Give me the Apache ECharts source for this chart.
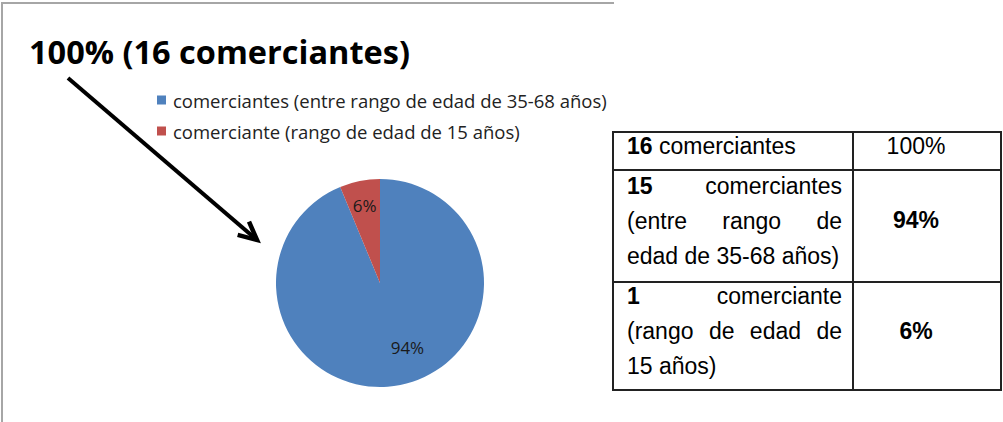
<!DOCTYPE html>
<html><head><meta charset="utf-8">
<script src="https://cdn.jsdelivr.net/npm/echarts@6/dist/echarts.min.js"></script>
<style>html,body{margin:0;padding:0;background:#fff}#c{width:1003px;height:422px}</style>
</head><body><div id="c"></div>
<script>
// ---- data ----
const titleText = '100% (16 comerciantes)';
const categories = ['comerciantes (entre rango de edad de 35-68 años)', 'comerciante (rango de edad de 15 años)'];
const counts = [15, 1];
const colors = ['#4F81BD', '#C0504D'];
const tableTotalLabel = 'comerciantes';
const tableRow1Lines = [['15', 'comerciantes'], ['(entre', 'rango', 'de'], ['edad de 35-68 años)']];
const tableRow2Lines = [['1', 'comerciante'], ['(rango', 'de', 'edad', 'de'], ['15 años)']];

// ---- derived ----
const total = counts.reduce((a, b) => a + b, 0);
const pct = counts.map(v => Math.round(v / total * 100) + '%');

// ---- helpers for the side table ----
const TF = 23, FAM = '"Liberation Sans", Arial, sans-serif';
const mctx = document.createElement('canvas').getContext('2d');
function tw(s, bold) { mctx.font = (bold ? 'bold ' : '') + TF + 'px ' + FAM; return mctx.measureText(s).width; }
function txt(x, y, s, bold, align) {
  return { type: 'text', x: x, y: y, silent: true, style: { text: s, font: (bold ? 'bold ' : '') + TF + 'px ' + FAM, fill: '#000', align: align || 'left', verticalAlign: 'middle' } };
}
const TX0 = 627, TX1 = 842;
function line(words, y, firstBold, justify) {
  const els = [];
  if (!justify || words.length === 1) {
    els.push(txt(TX0, y, words.join(' '), false));
    return els;
  }
  const ws = words.map((w, i) => tw(w, firstBold && i === 0));
  const sum = ws.reduce((a, b) => a + b, 0);
  const gap = (TX1 - TX0 - sum) / (words.length - 1);
  let x = TX0;
  words.forEach((w, i) => { els.push(txt(x, y, w, firstBold && i === 0)); x += ws[i] + gap; });
  return els;
}

const L = 613, R = 1001, T = 132, B = 390, CX = 853, R1 = 170, R2 = 282;
const tableEls = [
  { type: 'rect', shape: { x: L, y: T, width: R - L, height: B - T }, style: { fill: 'none', stroke: '#222', lineWidth: 2 }, silent: true },
  { type: 'line', shape: { x1: CX, y1: T, x2: CX, y2: B }, style: { stroke: '#222', lineWidth: 2 }, silent: true },
  { type: 'line', shape: { x1: L, y1: R1, x2: R, y2: R1 }, style: { stroke: '#222', lineWidth: 2 }, silent: true },
  { type: 'line', shape: { x1: L, y1: R2, x2: R, y2: R2 }, style: { stroke: '#222', lineWidth: 2 }, silent: true },
  { type: 'text', x: TX0, y: 146, silent: true, style: { text: '{b|' + total + '} ' + tableTotalLabel, font: TF + 'px ' + FAM, fill: '#000', verticalAlign: 'middle', rich: { b: { fontWeight: 'bold', fontSize: TF, fontFamily: FAM } } } },
  txt(916, 146, '100%', false, 'center'),
  txt(916, 220, pct[0], true, 'center'),
  txt(916, 331, pct[1], true, 'center')
];
[186, 221, 256].forEach((y, i) => tableEls.push(...line(tableRow1Lines[i], y, i === 0, i < 2)));
[296, 331, 366].forEach((y, i) => tableEls.push(...line(tableRow2Lines[i], y, i === 0, i < 2)));

// arrow
const ax0 = 68, ay0 = 78, ax1 = 257, ay1 = 240;
const dl = Math.hypot(ax1 - ax0, ay1 - ay0), ux = (ax1 - ax0) / dl, uy = (ay1 - ay0) / dl;
function rot(a) { const c = Math.cos(a), s = Math.sin(a); return [-(ux * c - uy * s), -(ux * s + uy * c)]; }
const h1 = rot(0.45), h2 = rot(-0.45), HL = 20;
const arrowEls = [
  { type: 'line', shape: { x1: ax0, y1: ay0, x2: ax1 - ux * 2, y2: ay1 - uy * 2 }, style: { stroke: '#000', lineWidth: 4 }, silent: true },
  { type: 'polyline', shape: { points: [[ax1 + h1[0] * HL, ay1 + h1[1] * HL], [ax1, ay1], [ax1 + h2[0] * HL, ay1 + h2[1] * HL]] }, style: { stroke: '#000', lineWidth: 4.5, fill: 'none', lineJoin: 'miter' }, silent: true }
];

const frameEls = [
  { type: 'polyline', shape: { points: [[2, 422], [2, 3], [614, 3]] }, style: { stroke: '#a6a6a6', lineWidth: 2, fill: 'none' }, silent: true }
];

const chart = echarts.init(document.getElementById('c'), null, { renderer: 'svg' });
const pieData = categories.map((n, i) => ({ name: n, value: counts[i], itemStyle: { color: colors[i] } }));
chart.setOption({
  animation: false,
  title: { text: titleText, left: 29, top: 33, padding: 0, textStyle: { fontFamily: '"Open Sans"', fontWeight: 'bold', fontSize: 32.5, color: '#000', lineHeight: 36 } },
  legend: {
    orient: 'vertical', left: 157, top: 90, icon: 'rect', itemWidth: 9, itemHeight: 9, itemGap: 11, padding: 0,
    data: categories,
    textStyle: { fontFamily: '"Open Sans"', fontSize: 18.5, color: '#222', padding: [0, 0, 0, 2], lineHeight: 20 }
  },
  series: [
    {
      type: 'pie', center: [380, 283], radius: 104, startAngle: 90, clockwise: true,
      label: { show: false }, labelLine: { show: false }, silent: true,
      itemStyle: { borderColor: '#fff', borderWidth: 0 },
      data: pieData
    },
    {
      type: 'pie', center: [380, 283], radius: [48, 104], startAngle: 90, clockwise: true, silent: true,
      legendHoverLink: false,
      itemStyle: { color: 'transparent' }, labelLine: { show: false },
      label: { show: true, position: 'inside', formatter: p => pct[p.dataIndex], fontFamily: '"Open Sans"', fontSize: 17, color: '#1a1a1a' },
      labelLayout: p => (p.dataIndex === 0 ? { dx: 12, dy: -13 } : {}),
      data: categories.map((n, i) => ({ name: n, value: counts[i], itemStyle: { color: 'transparent' } }))
    }
  ],
  graphic: [...frameEls, ...arrowEls, ...tableEls]
});
</script></body></html>
